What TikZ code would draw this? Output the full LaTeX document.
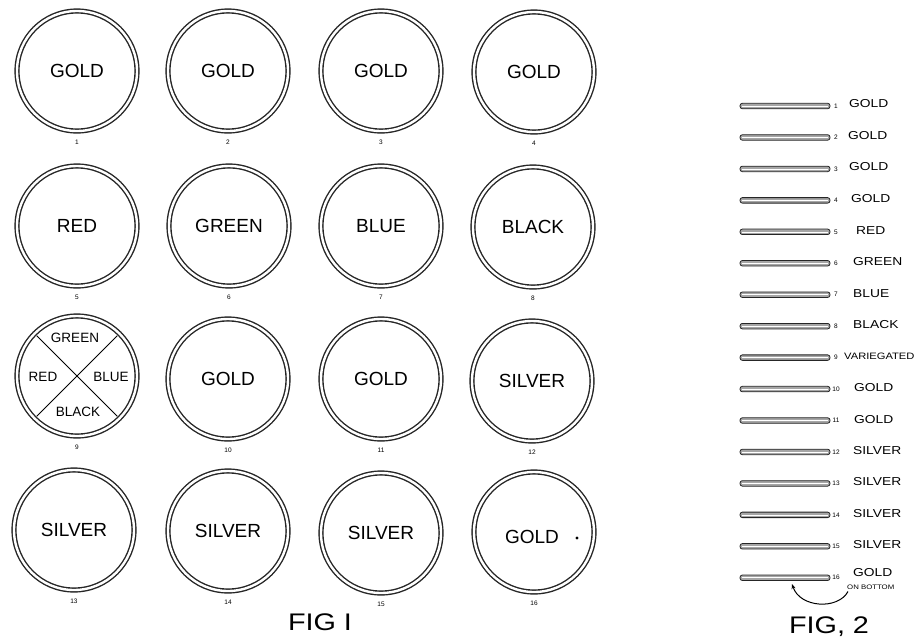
\documentclass[tikz,border=0pt]{standalone}
\usepackage{fontspec}
\setmainfont{Liberation Sans}
\newfontfamily\figfont[FakeStretch=1.2]{Liberation Sans}
\usetikzlibrary{arrows.meta}
\begin{document}
\begin{tikzpicture}[x=1pt,y=-1pt,
  coin/.style={circle, draw=black!85, line width=1.4pt, double=white, double distance=2.4pt,
    minimum size=120pt, inner sep=0pt, font=\fontsize{19}{22}\selectfont},
  coinnum/.style={font=\fontsize{6.5}{7}\selectfont, inner sep=0pt},
  quarter/.style={font=\fontsize{13.5}{16}\selectfont, inner sep=0pt},
  bar/.style={draw=black!85, line width=0.8pt, fill=black!35, rounded corners=2.4pt,
    minimum width=90pt, minimum height=5.5pt, inner sep=0pt},
  barnum/.style={font=\fontsize{6.5}{7}\selectfont, inner sep=0pt},
  barlabel/.style={font=\figfont\fontsize{11.5}{13}\selectfont, anchor=west, inner sep=0pt},
  figlabel/.style={font=\figfont\fontsize{24}{28}\selectfont, inner sep=0pt}]
\useasboundingbox (0,0) rectangle (924,641);

% ---- FIG 1 ----
\node[coin] (c1) at (77,71) {GOLD};
\node[coin] (c2) at (228,71) {GOLD};
\node[coin] (c3) at (381,71) {GOLD};
\node[coin] (c4) at (534,72) {GOLD};
\node[coin] (c5) at (77,226) {RED};
\node[coin] (c6) at (229,226) {GREEN};
\node[coin] (c7) at (381,226) {BLUE};
\node[coin] (c8) at (533,227) {BLACK};
\node[coin] (c9) at (77,376) {};
\node[coin] (c10) at (228,379) {GOLD};
\node[coin] (c11) at (381,379) {GOLD};
\node[coin] (c12) at (532,381) {SILVER};
\node[coin] (c13) at (74,530) {SILVER};
\node[coin] (c14) at (228,531) {SILVER};
\node[coin] (c15) at (381,533) {SILVER};
\node[coin] (c16) at (534,532) {};
\node[font=\fontsize{19}{22}\selectfont, inner sep=0pt] (t16) at (532,537) {GOLD};
\fill (577,538) circle (1.6pt);

% quartered coin 9
\draw[line width=1pt] ([shift={(135:57)}]c9.center) -- ([shift={(-45:57)}]c9.center);
\draw[line width=1pt] ([shift={(45:57)}]c9.center) -- ([shift={(-135:57)}]c9.center);
\node[quarter] (q1) at (75,338) {GREEN};
\node[quarter] (q2) at (43,377) {RED};
\node[quarter] (q3) at (111,377) {BLUE};
\node[quarter] (q4) at (78,412) {BLACK};

% coin numbers
\foreach \i in {1,...,16} {
  \node[coinnum] (n\i) at ([yshift=-71pt]c\i.center) {\i};
}

\node[figlabel] (fig1) at (320,622) {FIG I};

% ---- FIG 2 ----
\foreach \i in {1,...,16} {
  \pgfmathsetmacro{\yy}{106+(\i-1)*31.45}
  \node[bar] (b\i) at (785,\yy) {};
  \draw[white, line width=0.6pt] ([xshift=2pt]b\i.west) -- ([xshift=-2pt]b\i.east);
  \node[barnum] (bn\i) at (836,\yy) {\i};
}
\node[barlabel] (l1) at (849,104) {GOLD};
\node[barlabel] (l2) at (848,136) {GOLD};
\node[barlabel] (l3) at (849,167) {GOLD};
\node[barlabel] (l4) at (851,199) {GOLD};
\node[barlabel] (l5) at (856,230.5) {RED};
\node[barlabel] (l6) at (853,262) {GREEN};
\node[barlabel] (l7) at (853,293.5) {BLUE};
\node[barlabel] (l8) at (853,325) {BLACK};
\node[barlabel, font=\figfont\fontsize{9.3}{10}\selectfont] (l9) at (844,356.5) {VARIEGATED};
\node[barlabel] (l10) at (854,388) {GOLD};
\node[barlabel] (l11) at (854,419.5) {GOLD};
\node[barlabel] (l12) at (853,450.5) {SILVER};
\node[barlabel] (l13) at (853,482) {SILVER};
\node[barlabel] (l14) at (853,513.5) {SILVER};
\node[barlabel] (l15) at (853,545) {SILVER};
\node[barlabel] (l16) at (853,573) {GOLD};
\node[barlabel, font=\figfont\fontsize{6.5}{7}\selectfont] (ob) at (847,587) {ON BOTTOM};
\coordinate (arrtip) at (792,584);
\draw[line width=1pt, -{Stealth[length=5pt,width=4pt]}] ([shift={(1,2)}]ob.south west)
  .. controls (838,610) and (800,608) .. (arrtip);

\node[figlabel] (fig2) at (829,627) {FIG, 2};
\end{tikzpicture}
\end{document}
